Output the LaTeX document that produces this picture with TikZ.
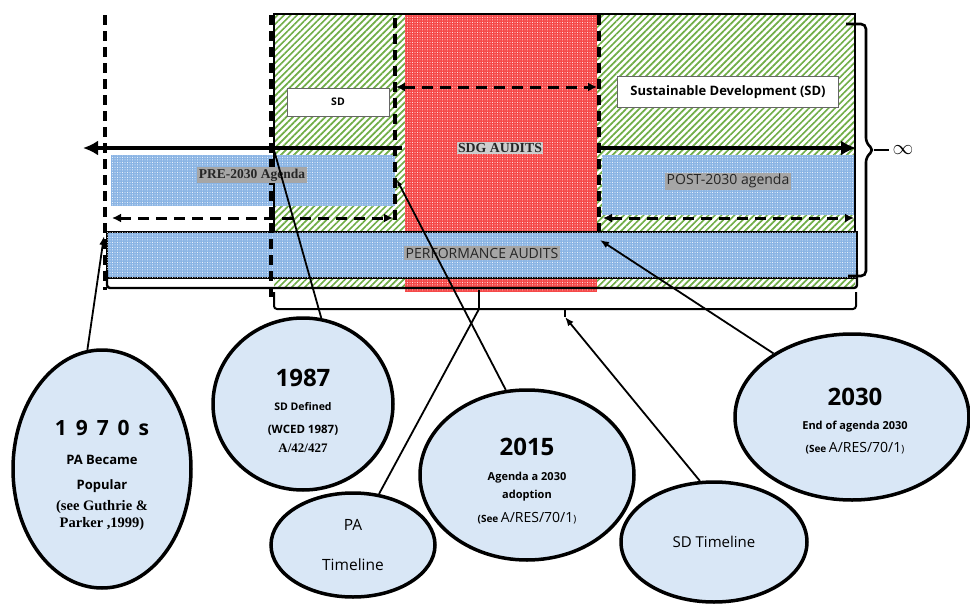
\documentclass[tikz,border=0pt]{standalone}
\usepackage{fontspec}
\setmainfont{Open Sans}
\newfontfamily\timesbf{Liberation Serif}
\usetikzlibrary{shapes.geometric,patterns.meta,arrows.meta}

\definecolor{hatchgreen}{RGB}{112,173,71}
\definecolor{pablue}{RGB}{138,180,228}
\definecolor{sdgred}{RGB}{245,72,72}
\definecolor{bubblefill}{RGB}{217,231,246}
\definecolor{taggray}{RGB}{166,166,166}
\definecolor{lighttag}{RGB}{205,205,205}

\newcommand{\setfs}[1]{\fontsize{#1}{#1}\selectfont}

\tikzset{
  bubble/.style={ellipse,draw,line width=3.5pt,fill=bubblefill,inner sep=0pt},
  graytag/.style={fill=taggray,inner sep=1.5pt,text=black!85},
  whitebox/.style={draw=black!60,fill=white,line width=0.9pt,inner sep=0pt},
  dashedrule/.style={line width=3.4pt,dash pattern=on 10pt off 6pt},
  dashedspan/.style={line width=3pt,dash pattern=on 11pt off 7pt,{Latex[length=9pt,width=9pt]}-{Latex[length=9pt,width=9pt]}},
  bigarrow/.style={line width=4.2pt,-{Latex[length=15pt,width=15pt]}},
  leader/.style={line width=1.8pt},
  dotfill/.style={postaction={pattern={Dots[distance=2.5pt,radius=0.5pt]},pattern color=white}},
}

\begin{document}
\begin{tikzpicture}[x=1pt,y=-1pt]
\useasboundingbox (0,0) rectangle (970,605);

% timeline blocks
\path[pattern={Lines[angle=45,distance=4.6pt,line width=1.7pt]},pattern color=hatchgreen] (274,14) rectangle (855,288);
\fill[sdgred,dotfill] (405,14) rectangle (597,292);
\fill[pablue,dotfill] (111,155) rectangle (395,206);
\fill[pablue,dotfill] (602,155) rectangle (855,215);
\draw[line width=2.4pt] (274,232) -- (274,14) -- (855,14) -- (855,232);
\draw[line width=2.6pt,fill=pablue,dotfill] (107,232) rectangle (857,278);
\draw[line width=2.4pt,rounded corners=3pt] (107,270) -- (107,288) -- (857,288) -- (857,270);

% brackets under the bar
\draw[line width=2pt,rounded corners=3pt] (274,292) -- (274,309) -- (856,309) -- (856,292);
\draw[line width=2pt] (479,290) -- (479,309);
\draw[line width=2pt] (565,309) -- (565,317);

% dashed rules
\draw[dashedrule] (105,15) -- (105,290);
\draw[dashedrule] (271,15) -- (271,300);
\draw[dashedrule] (395,18) -- (395,226);
\draw[dashedrule] (599,15) -- (599,232);

% spans
\draw[dashedspan] (396,87) -- (597,87);
\draw[dashedspan] (112,218) -- (393,218);
\draw[dashedspan] (603,218) -- (854,218);
\draw[bigarrow] (402,148) -- (83,148);
\draw[bigarrow] (598,148) -- (856,148);

% labels on the timeline
\node[whitebox,minimum width=102pt,minimum height=28pt] (sdshort) at (338,102) {\setfs{10.5}\bfseries SD};
\node[whitebox,minimum width=221pt,minimum height=31pt] (sdlong) at (728,92) {\setfs{13}\bfseries Sustainable Development (SD)};
\node[graytag,fill=lighttag] (sdg) at (500,148) {\timesbf\bfseries\setfs{13.8}SDG AUDITS};
\node[graytag] (pre) at (252,175) {\timesbf\bfseries\setfs{13.5}PRE-2030 Agenda};
\node[graytag] (post) at (728,181) {\setfs{14}POST-2030 agenda};
\node[graytag] (pa) at (482,253) {\setfs{14}PERFORMANCE AUDITS};

% infinity brace
\draw[line width=2.6pt,rounded corners=5pt] (846,24) -- (866,24) -- (866,143) -- (874,150) -- (866,157) -- (866,276) -- (848,276);
\coordinate (bracetip) at (874,150);
\node (inf) at (903,150) {\setfs{22}$\infty$};
\draw[line width=2.6pt] (bracetip) -- (inf);

% bubbles
\node[bubble,minimum width=178pt,minimum height=238pt] (e1970) at (102,469) {};
\node[bubble,minimum width=180pt,minimum height=172pt] (e1987) at (303,404) {};
\node[bubble,minimum width=164pt,minimum height=104pt] (ePA) at (353,545) {};
\node[bubble,minimum width=214pt,minimum height=170pt] (e2015) at (527,475) {};
\node[bubble,minimum width=186pt,minimum height=120pt] (eSD) at (714,542) {};
\node[bubble,minimum width=234pt,minimum height=166pt] (e2030) at (852,417) {};

\node (y1970) at (102,428) {\setfs{21}\bfseries 1\, 9\, 7\, 0\, s};
\node (pa1) at (102,460) {\setfs{13}\bfseries PA Became};
\node (pa2) at (102,486) {\setfs{13}\bfseries Popular};
\node (ref1970a) at (102,507) {\timesbf\bfseries\setfs{14.5}(see Guthrie \&};
\node (ref1970b) at (102,524) {\timesbf\bfseries\setfs{14.5}Parker ,1999)};

\node (y1987) at (303,378) {\setfs{24}\bfseries 1987};
\node (sd1) at (303,407) {\setfs{10.5}\bfseries SD Defined};
\node (sd2) at (303,430) {\setfs{11.5}\bfseries (WCED 1987)};
\node (sd3) at (303,448) {\timesbf\bfseries\setfs{13}A/42/427};

\node (y2015) at (527,447) {\setfs{24}\bfseries 2015};
\node (ag1) at (527,478) {\setfs{11}\bfseries Agenda a 2030};
\node (ag2) at (527,496) {\setfs{11}\bfseries adoption};
\node (ag3) at (527,518) {{\setfs{10}\bfseries(See }{\setfs{14}A/RES/70/1}{\setfs{10})}};

\node (y2030) at (855,397) {\setfs{24}\bfseries 2030};
\node (end1) at (855,427) {\setfs{11}\bfseries End of agenda 2030};
\node (end2) at (855,448) {{\setfs{10}\bfseries(See }{\setfs{14}A/RES/70/1}{\setfs{10})}};

\node (patl1) at (353,525) {\setfs{15.5}PA};
\node (patl2) at (353,565) {\setfs{15.5}Timeline};
\node (sdtl) at (714,542) {\setfs{15}SD Timeline};

% leaders
\coordinate (t1970) at (104,236);
\coordinate (t1987) at (274,150);
\coordinate (tPA) at (479,309);
\coordinate (t2015) at (397,180);
\coordinate (tSD) at (565,317);
\coordinate (t2030) at (600,240);
\draw[leader,-{Latex[length=9pt,width=7pt]}] (e1970.97) -- (t1970);
\draw[leader] (e1987.78) -- (t1987);
\draw[leader] (ePA.63) -- (tPA);
\draw[leader,-{Latex[length=6pt,width=5pt]}] (e2015.104) -- (t2015);
\draw[leader,-{Latex[length=9pt,width=7pt]}] (eSD.103) -- (tSD);
\draw[leader,-{Latex[length=9pt,width=7pt]}] (e2030.141) -- (t2030);
\end{tikzpicture}
\end{document}
